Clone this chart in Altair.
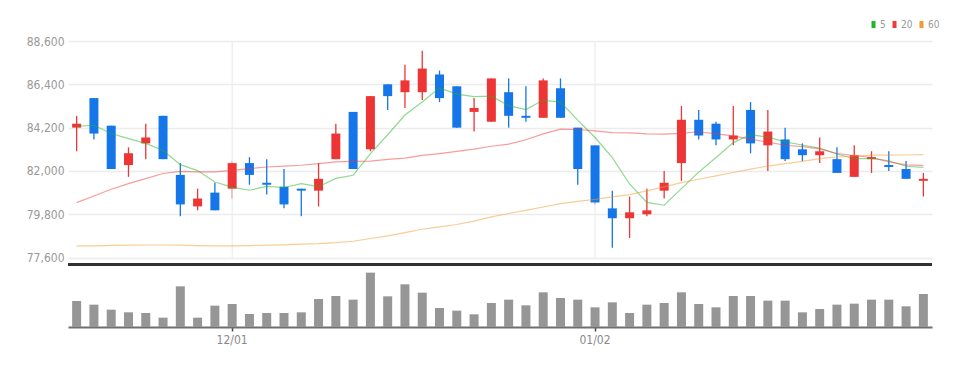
import altair as alt
import pandas as pd

dates = ["11/18", "11/21", "11/22", "11/23", "11/24", "11/25", "11/28", "11/29", "11/30",
         "12/01", "12/02", "12/05", "12/06", "12/07", "12/08", "12/09", "12/12", "12/13",
         "12/14", "12/15", "12/16", "12/19", "12/20", "12/21", "12/22", "12/23", "12/26",
         "12/27", "12/28", "12/29",
         "01/02", "01/03", "01/04", "01/05", "01/06", "01/09", "01/10", "01/11", "01/12",
         "01/13", "01/16", "01/17", "01/18", "01/19", "01/20", "01/25", "01/26", "01/27",
         "01/30", "01/31"]

opens = [84200, 85700, 84300, 82300, 83400, 84800, 81800, 80200, 80900, 81100,
         82400, 81400, 81200, 81100, 81000, 82600, 85000, 83100, 86400, 86000,
         86000, 86900, 86300, 85000, 84500, 86000, 84800, 84700, 86200, 84200,
         83300, 80100, 79600, 79800, 81000, 82400, 84600, 84400, 83600, 85100,
         83300, 83600, 83100, 82800, 82600, 81700, 82600, 82300, 82100, 81500]
highs = [84800, 85700, 84300, 83200, 84400, 84800, 82400, 81100, 81400, 82500,
         82700, 82600, 82100, 81100, 82400, 84400, 85000, 85800, 86400, 87400,
         88100, 87100, 86300, 85700, 86700, 86700, 86300, 86700, 86700, 84200,
         83300, 81000, 80700, 81100, 82000, 85300, 85100, 84500, 85300, 85500,
         85100, 84200, 83400, 83700, 83200, 83300, 83000, 83000, 82500, 81900]
lows = [83000, 83600, 82100, 81700, 82600, 82600, 79700, 80000, 80000, 80600,
        81300, 80800, 80100, 79700, 80200, 82600, 82100, 83000, 85100, 85200,
        85600, 85500, 84200, 84000, 84500, 84200, 84500, 84700, 84700, 81300,
        80300, 78100, 78600, 79700, 80600, 81500, 83600, 83300, 83300, 82900,
        82000, 82500, 82500, 82400, 81900, 81700, 81900, 82000, 81600, 80700]
closes = [84400, 83900, 82100, 82900, 83700, 82600, 80300, 80600, 80000, 82400,
          81800, 81300, 80300, 81000, 81600, 83900, 82100, 85800, 85800, 86600,
          87200, 85700, 84200, 85200, 86700, 84800, 84700, 86600, 84700, 82100,
          80400, 79600, 79900, 80000, 81400, 84600, 83800, 83600, 83800, 83400,
          84000, 82600, 82800, 83000, 81900, 82800, 82700, 82200, 81600, 81600]

volumes = [7800000, 6700000, 5200000, 4400000, 4200000, 2800000, 12200000, 2800000, 6400000, 6900000,
           3900000, 4200000, 4200000, 4400000, 8400000, 9300000, 8200000, 16300000, 9200000, 12800000,
           10300000, 5700000, 4900000, 3800000, 7200000, 8200000, 6500000, 10400000, 8700000, 8200000,
           5900000, 7400000, 4200000, 6700000, 7200000, 10400000, 6900000, 5900000, 9300000, 9300000,
           7900000, 7900000, 4400000, 5400000, 6700000, 7000000, 8200000, 8200000, 6200000, 9900000]

ma5 = [84270, 84320, 83900, 83640, 83400, 83040, 82320, 82020, 81440, 81180,
       81020, 81220, 81160, 81360, 81200, 81620, 81780, 82880, 83840, 84840,
       85500, 86220, 85900, 85780, 85800, 85320, 85120, 85600, 85500, 84580,
       83700, 82680, 81340, 80400, 80260, 81100, 81940, 82680, 83440, 83840,
       83720, 83480, 83320, 83160, 82860, 82620, 82640, 82520, 82240, 82180]
ma20 = [80390, 80730, 81070, 81360, 81610, 81870, 81980, 81950, 81950, 82030,
        82120, 82200, 82250, 82290, 82370, 82460, 82490, 82500, 82590, 82655,
        82795, 82885, 82990, 83105, 83255, 83365, 83585, 83885, 84120, 84105,
        84035, 83950, 83930, 83880, 83870, 83905, 83990, 83880, 83780, 83620,
        83460, 83305, 83235, 83125, 82885, 82785, 82685, 82465, 82310, 82285]
ma60 = [78200, 78200, 78220, 78230, 78240, 78240, 78230, 78210, 78200, 78200,
        78210, 78230, 78250, 78280, 78310, 78360, 78430, 78570, 78700, 78870,
        79040, 79160, 79280, 79450, 79670, 79840, 80000, 80170, 80340, 80460,
        80560, 80680, 80800, 80990, 81190, 81410, 81580, 81750, 81920, 82090,
        82250, 82370, 82490, 82630, 82710, 82760, 82800, 82800, 82810, 82830]

series_names = ["5", "20", "60"]
price_ticks = [77600, 79800, 82000, 84200, 86400, 88600]
x_labels = ["12/01", "01/02"]
VOL_MAX = 18800000

FONT = "Liberation Sans Narrow, DejaVu Sans Condensed, sans-serif"
RED = "#ee3535"
BLUE = "#1476e8"

df = pd.DataFrame({"date": dates, "idx": list(range(len(dates))), "open": opens,
                   "high": highs, "low": lows, "close": closes, "volume": volumes})
ma = pd.DataFrame({
    "date": dates * 3,
    "idx": list(range(len(dates))) * 3,
    "series": [series_names[0]] * len(dates) + [series_names[1]] * len(dates) + [series_names[2]] * len(dates),
    "value": ma5 + ma20 + ma60,
})
grid_df = pd.DataFrame({"date": x_labels})

x_enc = alt.X("date:O",
              scale=alt.Scale(domain=dates, paddingInner=0, paddingOuter=0),
              axis=alt.Axis(values=x_labels, labelAngle=0, title=None, grid=False,
                            domainColor="#6f6f6f", domainWidth=2, tickColor="#444",
                            tickSize=4, tickWidth=1.5, labelColor="#888",
                            labelFontSize=12, labelPadding=3, labelFont=FONT))

price_scale = alt.Scale(domain=[77600, 88600], nice=False, zero=False, range=[216.6, 0])
price_axis = alt.Axis(values=price_ticks, format=",d", grid=True, gridColor="#ececec",
                      gridWidth=1.5, domain=False, ticks=False, labelColor="#999",
                      labelFontSize=12, labelFont=FONT, labelPadding=4, title=None)

candle_color = alt.condition("datum.close >= datum.open", alt.value(RED), alt.value(BLUE))

wicks = alt.Chart(df).mark_rule(strokeWidth=1.3).encode(
    x=x_enc,
    y=alt.Y("low:Q", scale=price_scale, axis=price_axis),
    y2="high:Q",
    color=candle_color,
)

vgrid = alt.Chart(grid_df).mark_rule(color="#ececec", strokeWidth=1.2).encode(
    x=x_enc,
    y=alt.YDatum(price_ticks[-1], scale=price_scale, axis=price_axis),
    y2=alt.Y2Datum(price_ticks[0]),
)

bodies = alt.Chart(df).mark_bar(size=9).encode(
    x=x_enc,
    y=alt.Y("open:Q", scale=price_scale, axis=price_axis),
    y2="close:Q",
    color=candle_color,
)

lines = alt.Chart(ma).mark_line(strokeWidth=1.2, strokeOpacity=0.5).encode(
    x=x_enc,
    y=alt.Y("value:Q", scale=price_scale, axis=price_axis),
    color=alt.Color("series:N",
                    scale=alt.Scale(domain=series_names, range=["#22b522", "#ef3b3b", "#f39a30"]),
                    legend=alt.Legend(orient="none", legendX=800, legendY=-22,
                                      direction="horizontal", title=None,
                                      symbolType="M0,-1L0,1", symbolSize=49,
                                      symbolStrokeWidth=4, symbolOpacity=1,
                                      labelFontSize=10, labelColor="#999",
                                      labelFont=FONT, labelOffset=1, columnPadding=0,
                                      gridAlign="none")),
    order=alt.Order("idx:Q"),
)

price = alt.layer(wicks, vgrid, bodies, lines)

vol_scale = alt.Scale(domain=[0, VOL_MAX], range=[286, 223.3], nice=False)

vol_bars = alt.Chart(df).mark_bar(size=9, color="#969696").encode(
    x=x_enc,
    y=alt.Y("volume:Q", scale=vol_scale, axis=None),
)
separator = alt.Chart(df).mark_rule(color="#333333", strokeWidth=2).encode(
    y=alt.YDatum(VOL_MAX, scale=vol_scale, axis=None),
)
volume = alt.layer(vol_bars, separator)

chart = alt.layer(price, volume).resolve_scale(y="independent").properties(
    width=864, height=286,
    autosize=alt.AutoSizeParams(type="none"),
    padding={"left": 60, "top": 33, "right": 30, "bottom": 25},
).configure(font=FONT).configure_view(stroke=None)

chart.save("out.html", embed_options={"renderer": "svg", "actions": False})
